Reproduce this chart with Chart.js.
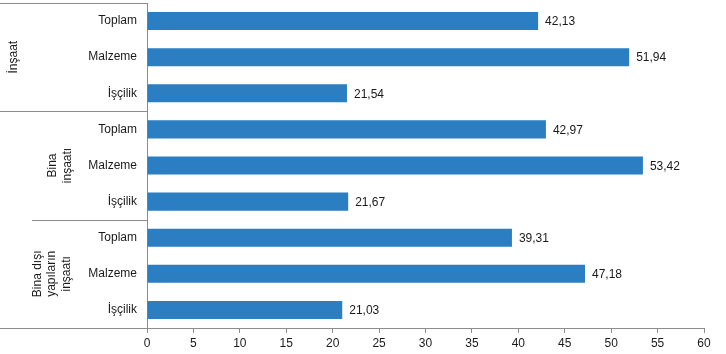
<!DOCTYPE html>
<html>
<head>
<meta charset="utf-8">
<script src="https://cdn.jsdelivr.net/npm/chart.js@4/dist/chart.umd.min.js"></script>
<style>
  body { margin: 0; background: #fff; }
  #wrap { width: 726px; height: 354px; }
</style>
</head>
<body>
<div id="wrap"><canvas id="barChart" width="726" height="354"></canvas></div>
<script>
const categories = ['Toplam', 'Malzeme', 'İşçilik', 'Toplam', 'Malzeme', 'İşçilik', 'Toplam', 'Malzeme', 'İşçilik'];
const values = [42.13, 51.94, 21.54, 42.97, 53.42, 21.67, 39.31, 47.18, 21.03];
const groups = [['İnşaat'], ['Bina', 'inşaatı'], ['Bina dışı', 'yapıların', 'inşaatı']];
const groupSize = 3;
const xTicks = [0, 5, 10, 15, 20, 25, 30, 35, 40, 45, 50, 55, 60];

const barClr = '#2b7ec2';
const lineClr = '#8c8c8c';
const fontFamily = '"Liberation Sans", Arial, sans-serif';

// x position (center of the text block) for each group label
const groupTextX = [14, 60, 52];
// where each separator below a group starts
const sepStart = [0, 32, 0];

const fmt = v => v.toFixed(2).replace('.', ',');

const extras = {
    id: 'extras',
    afterDatasetsDraw(chart) {
        const ctx = chart.ctx;
        const area = chart.chartArea;
        const y = chart.scales.y;
        const meta = chart.getDatasetMeta(0);

        // value labels
        ctx.save();
        ctx.font = '12px ' + fontFamily;
        ctx.fillStyle = '#1a1a1a';
        ctx.textAlign = 'left';
        ctx.textBaseline = 'middle';
        meta.data.forEach((bar, i) => {
            ctx.fillText(fmt(values[i]), bar.x + 7, bar.y + 1);
        });

        // frame lines left of the axis
        ctx.strokeStyle = lineClr;
        ctx.lineWidth = 1;
        const half = (y.getPixelForValue(1) - y.getPixelForValue(0)) / 2;
        ctx.beginPath();
        ctx.moveTo(0, Math.round(area.top) + 0.5);
        ctx.lineTo(area.left, Math.round(area.top) + 0.5);
        groups.forEach((g, gi) => {
            const last = (gi + 1) * groupSize - 1;
            const yy = Math.round(y.getPixelForValue(last) + half) + 0.5;
            ctx.moveTo(sepStart[gi], yy);
            ctx.lineTo(area.left, yy);
        });
        ctx.stroke();

        // group labels, rotated
        ctx.fillStyle = '#1a1a1a';
        ctx.textAlign = 'center';
        ctx.textBaseline = 'middle';
        groups.forEach((g, gi) => {
            const first = gi * groupSize;
            const last = first + groupSize - 1;
            const cy = (y.getPixelForValue(first) + y.getPixelForValue(last)) / 2;
            const lh = 14.5;
            ctx.save();
            ctx.translate(groupTextX[gi], cy);
            ctx.rotate(-Math.PI / 2);
            g.forEach((line, li) => {
                ctx.fillText(line, 0, (li - (g.length - 1) / 2) * lh);
            });
            ctx.restore();
        });
        ctx.restore();
    }
};

new Chart(document.getElementById('barChart'), {
    type: 'bar',
    data: {
        labels: categories,
        datasets: [{
            data: values,
            backgroundColor: barClr,
            barPercentage: 0.5,
            categoryPercentage: 1.0
        }]
    },
    options: {
        indexAxis: 'y',
        responsive: false,
        animation: false,
        layout: { padding: { top: 3, right: 22, left: 0, bottom: 0 } },
        scales: {
            x: {
                min: 0,
                max: 60,
                afterBuildTicks: scale => { scale.ticks = xTicks.map(v => ({ value: v })); },
                afterFit: scale => {
                    scale.height = 26;
                    scale.paddingLeft = 0;
                    scale.paddingRight = 0;
                },
                grid: { drawOnChartArea: false, drawTicks: true, tickLength: 5, color: lineClr },
                border: { color: lineClr },
                ticks: { color: '#1a1a1a', padding: 3, font: { family: fontFamily, size: 12 } }
            },
            y: {
                afterFit: scale => {
                    scale.width = 147;
                    scale.paddingTop = 0;
                    scale.paddingBottom = 0;
                },
                grid: { display: false, drawTicks: false },
                border: { color: lineClr },
                ticks: { color: '#1a1a1a', padding: 10, font: { family: fontFamily, size: 12 } }
            }
        },
        plugins: {
            legend: { display: false },
            tooltip: { enabled: false }
        }
    },
    plugins: [extras]
});
</script>
</body>
</html>
